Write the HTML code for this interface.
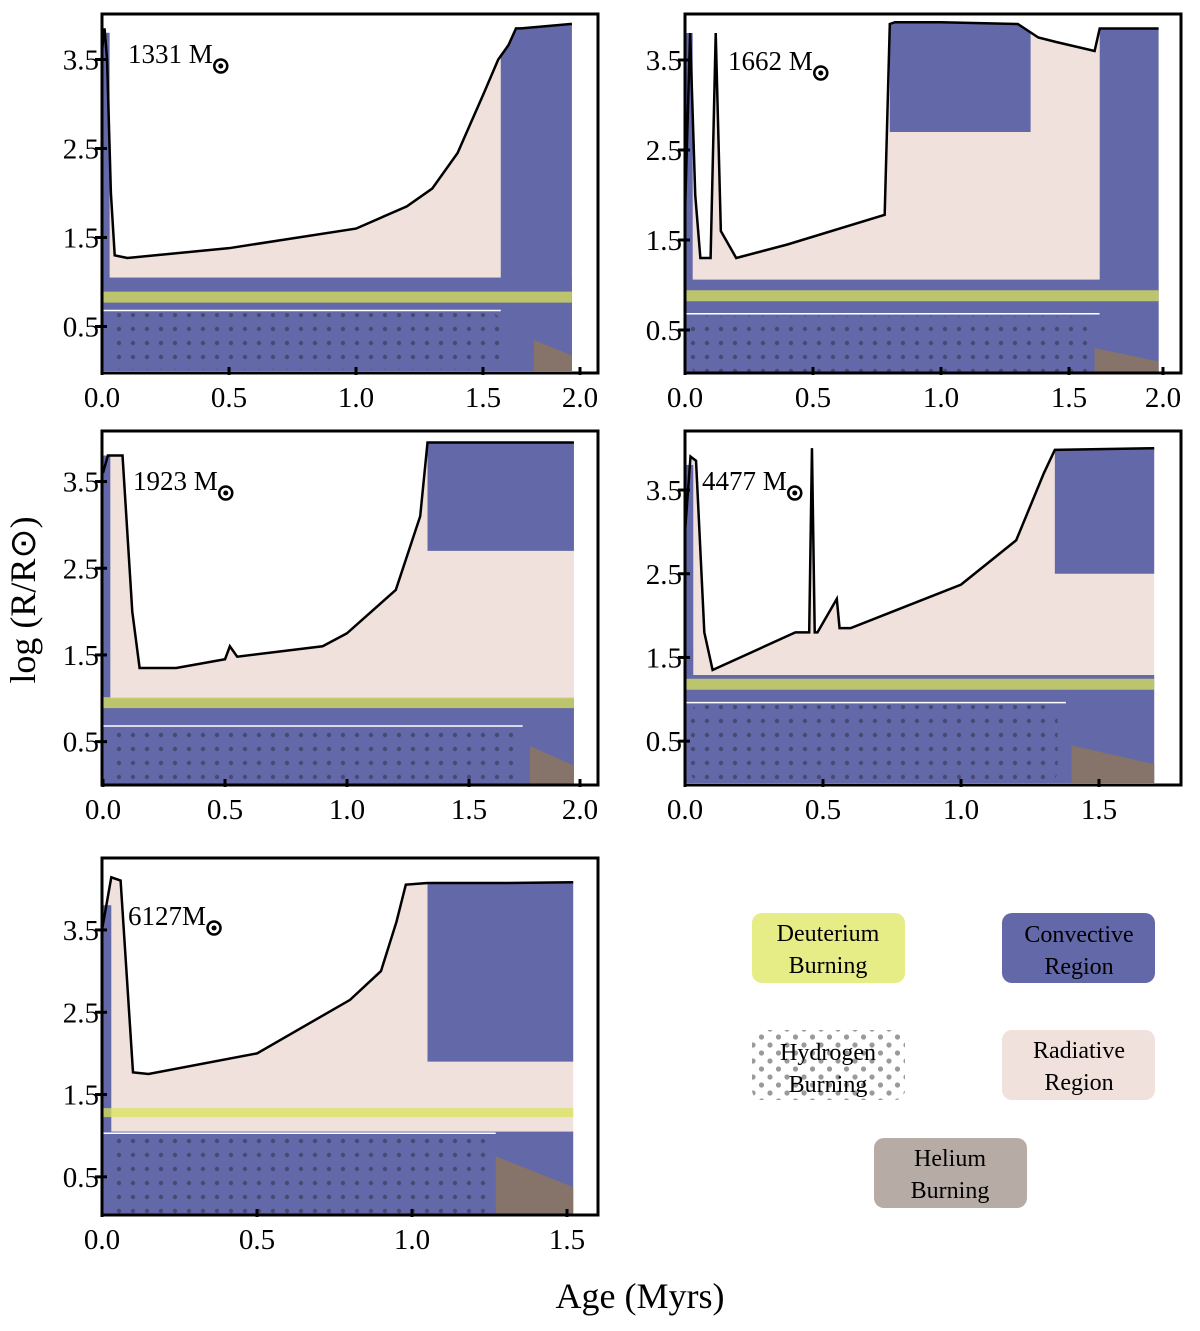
<!DOCTYPE html>
<html><head><meta charset="utf-8"><style>
html,body{margin:0;padding:0;background:#fff;}
svg{display:block;font-family:"Liberation Serif",serif;}
</style></head><body>
<svg id="chart" width="1200" height="1331" viewBox="0 0 1200 1331">
<defs>
<pattern id="dots" width="14" height="14" patternUnits="userSpaceOnUse"><circle cx="7" cy="7" r="2.2" fill="#3a3a58" fill-opacity="0.65"/></pattern>
<pattern id="ldots" width="17" height="16" patternUnits="userSpaceOnUse"><circle cx="5" cy="5" r="2.6" fill="#9a9a9a"/><circle cx="13.5" cy="13" r="2.6" fill="#9a9a9a"/></pattern>
</defs>
<text x="35" y="600" transform="rotate(-90 35 600)" text-anchor="middle" font-size="36">log (R/R⊙)</text>
<text x="640" y="1308" text-anchor="middle" font-size="36">Age (Myrs)</text>
<g>
<rect x="752" y="913" width="153" height="70" rx="10" fill="#e6ec86"/>
<text x="828" y="941" text-anchor="middle" font-size="24"><tspan x="828">Deuterium</tspan><tspan x="828" dy="32">Burning</tspan></text>
<rect x="1002" y="913" width="153" height="70" rx="10" fill="#6368a8"/>
<text x="1079" y="942" text-anchor="middle" font-size="24"><tspan x="1079">Convective</tspan><tspan x="1079" dy="32">Region</tspan></text>
<rect x="752" y="1030" width="153" height="70" rx="10" fill="url(#ldots)"/>
<text x="828" y="1060" text-anchor="middle" font-size="24"><tspan x="828">Hydrogen</tspan><tspan x="828" dy="32">Burning</tspan></text>
<rect x="1002" y="1030" width="153" height="70" rx="10" fill="#f0e1dc"/>
<text x="1079" y="1058" text-anchor="middle" font-size="24"><tspan x="1079">Radiative</tspan><tspan x="1079" dy="32">Region</tspan></text>
<rect x="874" y="1138" width="153" height="70" rx="10" fill="#b7aca5"/>
<text x="950" y="1166" text-anchor="middle" font-size="24"><tspan x="950">Helium</tspan><tspan x="950" dy="32">Burning</tspan></text>
</g>
</svg>
<script>
// surface radius tracks (age in Myr, log R/Rsun)
const p1Age=[0,0.01,0.02,0.035,0.05,0.1,0.5,1.0,1.2,1.3,1.4,1.5,1.56,1.6,1.63,1.65,1.85];
const p1R  =[3.6,3.85,3.5,2.0,1.3,1.27,1.38,1.6,1.85,2.05,2.45,3.1,3.5,3.66,3.85,3.85,3.9];
const p2Age=[0,0.02,0.04,0.06,0.1,0.12,0.14,0.2,0.4,0.78,0.8,0.82,1.0,1.3,1.38,1.45,1.6,1.62,1.85];
const p2R  =[1.8,3.8,2.0,1.3,1.3,3.8,1.6,1.3,1.45,1.78,3.9,3.92,3.92,3.9,3.75,3.7,3.6,3.85,3.85];
const p3Age=[0,0.02,0.08,0.12,0.15,0.3,0.5,0.52,0.55,0.9,1.0,1.2,1.3,1.33,1.6,1.93];
const p3R  =[3.6,3.8,3.8,2.0,1.35,1.35,1.45,1.6,1.48,1.6,1.75,2.25,3.1,3.95,3.95,3.95];
const p4Age=[0,0.02,0.04,0.07,0.1,0.4,0.45,0.46,0.47,0.48,0.55,0.56,0.6,1.0,1.2,1.3,1.34,1.7];
const p4R  =[3.0,3.9,3.85,1.8,1.35,1.8,1.8,4.0,1.8,1.8,2.2,1.85,1.85,2.37,2.9,3.7,3.98,4.0];
const p5Age=[0,0.03,0.06,0.1,0.15,0.5,0.8,0.9,0.95,0.98,1.05,1.3,1.52];
const p5R  =[3.5,4.14,4.1,1.77,1.75,2.0,2.65,3.0,3.6,4.05,4.07,4.07,4.08];
// core / burning region levels (log R)
const coreTop=[1.05,1.06,1.0,1.29,1.05];
const hTop=[0.65,0.65,0.65,0.93,1.0];
const hEnd=[1.6,1.62,1.72,1.38,1.27];
const dLevel=[0.83,0.88,0.95,1.18,1.28];
const envStart=[1.57,1.62,1.33,1.34,1.05];
const envLow=[0,0,2.7,2.5,1.9];
const env2Start=[0,0.8,0,0,0];
const env2End=[0,1.35,0,0,0];
const env2Low=[0,2.7,0,0,0];
const heStart=[1.7,1.6,1.75,1.4,1.27];
const heTop=[0.35,0.3,0.45,0.45,0.75];
const masses=["1331 M","1662 M","1923 M","4477 M","6127M"];
const xTicks=[[0,0.5,1.0,1.5,2.0],[0,0.5,1.0,1.5,2.0],[0,0.5,1.0,1.5,2.0],[0,0.5,1.0,1.5],[0,0.5,1.0,1.5]];
const yTicks=[0.5,1.5,2.5,3.5];

const geo=[
 {fx:102,fy:14,fw:496,fh:359,x0:102,kx:254,y0:371,ky:89,lx:128,ly:63},
 {fx:685,fy:14,fw:496,fh:359,x0:685,kx:256,y0:375,ky:90,lx:728,ly:70},
 {fx:102,fy:431,fw:496,fh:354,x0:103,kx:244,y0:785,ky:86.7,lx:133,ly:490},
 {fx:685,fy:431,fw:496,fh:354,x0:685,kx:276,y0:783,ky:83.7,lx:702,ly:490},
 {fx:102,fy:858,fw:496,fh:357,x0:102,kx:310,y0:1218,ky:82.3,lx:128,ly:925}
];
const ages=[p1Age,p2Age,p3Age,p4Age,p5Age], radii=[p1R,p2R,p3R,p4R,p5R];
const NS="http://www.w3.org/2000/svg", svg=document.getElementById('chart');
function mk(t,a,p){const e=document.createElementNS(NS,t);for(const k in a)e.setAttribute(k,a[k]);(p||svg).appendChild(e);return e;}
function interp(A,R,t){for(let i=1;i<A.length;i++){if(t<=A[i]){const f=(t-A[i-1])/(A[i]-A[i-1]||1);return R[i-1]+f*(R[i]-R[i-1]);}}return R[R.length-1];}
function envPath(sx,sy,A,R,a0,a1,low){
 let e='M'+sx(a0)+','+sy(low)+' L'+sx(a0)+','+sy(interp(A,R,a0));
 A.forEach((a,k)=>{if(a>a0&&a<a1)e+=' L'+sx(a)+','+sy(R[k]);});
 e+=' L'+sx(a1)+','+sy(interp(A,R,a1))+' L'+sx(a1)+','+sy(low)+' Z';return e;}

geo.forEach((g,i)=>{
 const sx=a=>g.x0+a*g.kx, sy=r=>g.y0-r*g.ky;
 const A=ages[i],R=radii[i],end=A[A.length-1];
 const grp=mk('g',{});
 
 
 const cid='clip'+i;
 const cp=mk('clipPath',{id:cid},grp);mk('rect',{x:g.fx,y:g.fy,width:g.fw,height:g.fh},cp);
 const body=mk('g',{'clip-path':'url(#'+cid+')'},grp);
 let d='M'+sx(0)+','+sy(0);A.forEach((a,k)=>d+=' L'+sx(a)+','+sy(R[k]));d+=' L'+sx(end)+','+sy(0)+'Z';
 const rad=mk('path',{d:d,fill:'#f0e1dc'},body);
 
 
 const sp=mk('rect',{x:sx(0),y:sy(3.8),width:sx(0.03)-sx(0),height:sy(0)-sy(3.8),fill:'#6368a8'},body);
 
 
 const cc=mk('rect',{x:sx(0),y:sy(coreTop[i]),width:sx(end)-sx(0),height:sy(0)-sy(coreTop[i]),fill:'#6368a8'},body);
 
 
 const hb=mk('rect',{x:sx(0.02),y:sy(hTop[i]),width:sx(hEnd[i]-0.03)-sx(0.02),height:sy(0.02)-sy(hTop[i]),rx:10,fill:'url(#dots)'},body);
 
 
 const wl=mk('line',{x1:sx(0),x2:sx(hEnd[i]),y1:sy(hTop[i]+0.03),y2:sy(hTop[i]+0.03),stroke:'#fff','stroke-width':1.5},body);
 
 
 const ce=mk('path',{d:envPath(sx,sy,A,R,envStart[i],end,envLow[i]),fill:'#6368a8'},body);
 
 
 if(env2End[i]>0){
  const c2=mk('path',{d:envPath(sx,sy,A,R,env2Start[i],env2End[i],env2Low[i]),fill:'#6368a8'},body);
  
  
 }
 const db=mk('line',{x1:sx(0),x2:sx(end),y1:sy(dLevel[i]),y2:sy(dLevel[i]),stroke:'#d9e35a','stroke-opacity':0.75,'stroke-width':i==4?9:11},body);
 
 
 const he=mk('path',{d:'M'+sx(heStart[i])+','+sy(0)+' L'+sx(heStart[i])+','+sy(heTop[i])+' L'+sx(end)+','+sy(heTop[i]*0.5)+' L'+sx(end)+','+sy(0)+'Z',fill:'#86736a'},body);
 
 
 let s='';A.forEach((a,k)=>s+=(k?' L':'M')+sx(a)+','+sy(R[k]));
 const sl=mk('path',{d:s,fill:'none',stroke:'#000','stroke-width':2.5},body);
 
 
 const fr=mk('rect',{x:g.fx,y:g.fy,width:g.fw,height:g.fh,fill:'none',stroke:'#000','stroke-width':3},grp);
 
 
 yTicks.forEach(t=>{
  const tl=mk('line',{x1:g.fx-7,x2:g.fx+5,y1:sy(t),y2:sy(t),stroke:'#000','stroke-width':3},grp);
  
  
  const tx=mk('text',{x:g.fx-3,y:sy(t)+10,'text-anchor':'end','font-size':29},grp);tx.textContent=t.toFixed(1);
  
  
 });
 xTicks[i].forEach(t=>{
  const xx=Math.min(sx(t),g.fx+g.fw-18);
  const tl=mk('line',{x1:xx,x2:xx,y1:g.fy+g.fh-6,y2:g.fy+g.fh+2,stroke:'#000','stroke-width':3},grp);
  
  
  const tx=mk('text',{x:xx,y:g.fy+g.fh+34,'text-anchor':'middle','font-size':29},grp);tx.textContent=t.toFixed(1);
  
  
 });
 const lb=mk('text',{x:g.lx,y:g.ly,'font-size':27},grp);lb.textContent=masses[i];
 
 
 const w=lb.getComputedTextLength?lb.getComputedTextLength():90;
 const sun=mk('g',{},grp);
 
 
 mk('circle',{cx:g.lx+w+8,cy:g.ly+3,r:6.5,fill:'none',stroke:'#000','stroke-width':2.5},sun);
 mk('circle',{cx:g.lx+w+8,cy:g.ly+3,r:2.5,fill:'#000'},sun);
});
</script>
</body></html>
